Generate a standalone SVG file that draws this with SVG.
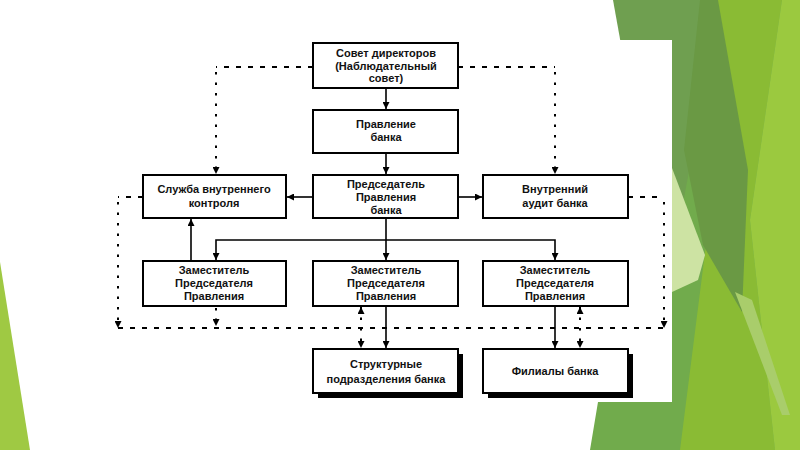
<svg xmlns="http://www.w3.org/2000/svg" width="800" height="450" viewBox="0 0 800 450">
<style>
.box{fill:#fff;stroke:#000;stroke-width:2}
.shadow{fill:#000}
.t{font-family:"Liberation Sans",Arial,sans-serif;font-size:11px;font-weight:bold;fill:#111;text-anchor:middle}
.solid{fill:none;stroke:#000;stroke-width:1.6}
.dash{fill:none;stroke:#000;stroke-width:2;stroke-dasharray:5 7}
.dot{fill:none;stroke:#000;stroke-width:2;stroke-dasharray:2.5 8}
</style>
<defs>
<marker id="ah" viewBox="0 0 8 8" refX="8" refY="4" markerWidth="7" markerHeight="7" markerUnits="userSpaceOnUse" orient="auto-start-reverse">
<path d="M0,0 L8,4 L0,8 z" fill="#000"/>
</marker>
</defs>
<rect width="800" height="450" fill="#fff"/>
<g id="background">
<polygon points="0,262 30,450 0,450" fill="#9fc943"/>
<polygon points="660,0 800,0 800,450 590,450 640,150" fill="#71ab4c"/>
<polygon points="717,0 782,0 750,220 775,450 680,450 707,237" fill="#8abb34"/>
<polygon points="782,0 800,0 800,450 775,450 750,220" fill="#9bc93f"/>
<polygon points="613,0 718,0 693,150 672,262 640,150" fill="#6f9f50"/>
<polygon points="700,0 718,0 748,170 742,312 703,245 684,150" fill="#6a9944"/>
<polygon points="735,292 752,300 790,415 782,415" fill="#a9cd6b"/>
<polygon points="672,168 705,255 698,280 672,292" fill="#cde3a3"/>
<rect x="112" y="40" width="560" height="362" fill="#fff"/>
</g>
<g id="connectors">
<path class="solid" d="M386,88 V109" marker-end="url(#ah)"/>
<path class="solid" d="M386,153 V174" marker-end="url(#ah)"/>
<path class="solid" d="M313,197 H287" marker-end="url(#ah)"/>
<path class="solid" d="M458,197 H482" marker-end="url(#ah)"/>
<path class="solid" d="M386,218 V260" marker-end="url(#ah)"/>
<path class="solid" d="M216,260 V240 H555 V260" marker-start="url(#ah)" marker-end="url(#ah)"/>
<path class="solid" d="M191,261 V219" marker-end="url(#ah)"/>
<path class="solid" d="M386,306 V348" marker-end="url(#ah)"/>
<path class="solid" d="M555,306 V348" marker-end="url(#ah)"/>
<path class="dash" d="M313,67 H216"/>
<path class="dot" d="M216,72 V174" marker-end="url(#ah)"/>
<path class="dash" d="M458,67 H555"/>
<path class="dot" d="M555,72 V174" marker-end="url(#ah)"/>
<path class="dash" d="M143,197 H118"/>
<path class="dot" d="M118,202 V328" marker-end="url(#ah)"/>
<path class="dash" d="M628,197 H664"/>
<path class="dot" d="M664,202 V328" marker-end="url(#ah)"/>
<path class="dash" d="M118,328 H664"/>
<path class="dot" d="M216,308 V326" marker-end="url(#ah)"/>
<path class="dot" d="M361,307 V348" marker-start="url(#ah)" marker-end="url(#ah)"/>
<path class="dot" d="M580,307 V348" marker-start="url(#ah)" marker-end="url(#ah)"/>
</g>
<g id="sovet">
<rect class="box" x="313" y="43" width="145" height="45"/>
<text class="t" x="386" y="57">Совет директоров</text>
<text class="t" x="386" y="69.5">(Наблюдательный</text>
<text class="t" x="386" y="82">совет)</text>
</g>
<g id="pravlenie">
<rect class="box" x="313" y="110" width="145" height="43"/>
<text class="t" x="386" y="128">Правление</text>
<text class="t" x="386" y="141">банка</text>
</g>
<g id="sluzhba">
<rect class="box" x="143" y="175" width="143" height="43"/>
<text class="t" x="214" y="193">Служба внутреннего</text>
<text class="t" x="214" y="207">контроля</text>
</g>
<g id="predsedatel">
<rect class="box" x="313" y="175" width="145" height="43"/>
<text class="t" x="386" y="188">Председатель</text>
<text class="t" x="386" y="201">Правления</text>
<text class="t" x="386" y="214">банка</text>
</g>
<g id="audit">
<rect class="box" x="483" y="175" width="145" height="43"/>
<text class="t" x="555" y="193">Внутренний</text>
<text class="t" x="555" y="207">аудит банка</text>
</g>
<g id="zam1">
<rect class="box" x="143" y="261" width="143" height="45"/>
<text class="t" x="214" y="274">Заместитель</text>
<text class="t" x="214" y="287">Председателя</text>
<text class="t" x="214" y="300">Правления</text>
</g>
<g id="zam2">
<rect class="box" x="313" y="261" width="145" height="45"/>
<text class="t" x="386" y="274">Заместитель</text>
<text class="t" x="386" y="287">Председателя</text>
<text class="t" x="386" y="300">Правления</text>
</g>
<g id="zam3">
<rect class="box" x="483" y="261" width="145" height="45"/>
<text class="t" x="555" y="274">Заместитель</text>
<text class="t" x="555" y="287">Председателя</text>
<text class="t" x="555" y="300">Правления</text>
</g>
<g id="strukturnye">
<rect class="shadow" x="318" y="354" width="145" height="44"/>
<rect class="box" x="313" y="349" width="145" height="44"/>
<text class="t" x="386" y="368">Структурные</text>
<text class="t" x="386" y="383">подразделения банка</text>
</g>
<g id="filialy">
<rect class="shadow" x="488" y="354" width="145" height="44"/>
<rect class="box" x="483" y="349" width="145" height="44"/>
<text class="t" x="555" y="375">Филиалы банка</text>
</g>
</svg>
